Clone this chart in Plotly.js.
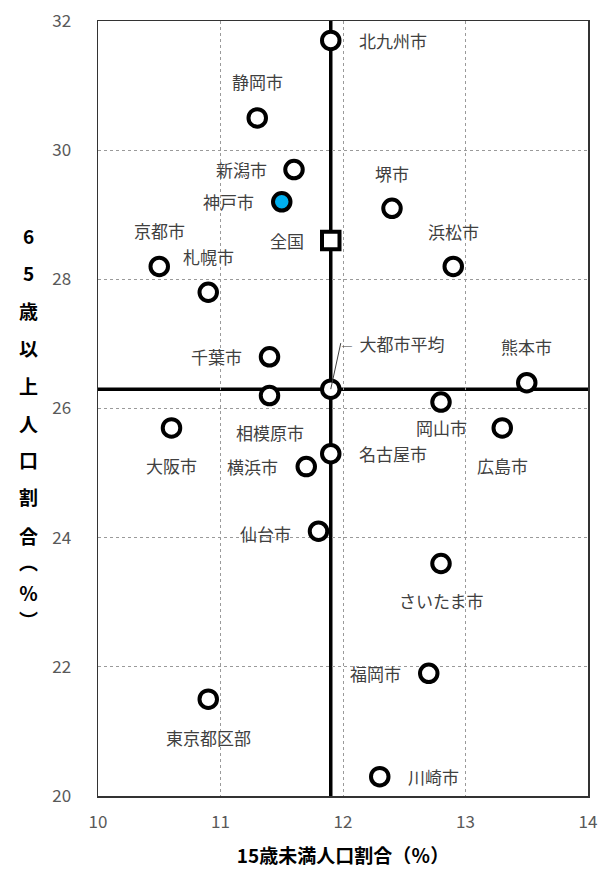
<!DOCTYPE html>
<html>
<head>
<meta charset="utf-8">
<script src="https://cdn.plot.ly/plotly-3.0.1.min.js"></script>
<style>
  html, body { margin: 0; padding: 0; background: #fff; }
  #plot { width: 601px; height: 873px; }
</style>
</head>
<body>
<div id="plot"></div>
<script>
// 各都市のデータ（15歳未満人口割合, 65歳以上人口割合）
const cities = ['北九州市', '静岡市', '新潟市', '神戸市', '堺市', '京都市', '札幌市', '浜松市',
  '千葉市', '熊本市', '相模原市', '岡山市', '大阪市', '広島市', '名古屋市', '横浜市',
  '仙台市', 'さいたま市', '福岡市', '東京都区部', '川崎市'];
const under15 = [11.9, 11.3, 11.6, 11.5, 12.4, 10.5, 10.9, 12.9,
  11.4, 13.5, 11.4, 12.8, 10.6, 13.3, 11.9, 11.7,
  11.8, 12.8, 12.7, 10.9, 12.3];
const over65 = [31.7, 30.5, 29.7, 29.2, 29.1, 28.2, 27.8, 28.2,
  26.8, 26.4, 26.2, 26.1, 25.7, 25.7, 25.3, 25.1,
  24.1, 23.6, 21.9, 21.5, 20.3];

// 全国と大都市平均
const nationName = '全国';
const nationX = [11.9];
const nationY = [28.6];
const avgName = '大都市平均';
const avgX = [11.9];
const avgY = [26.3];

const xTicks = [10, 11, 12, 13, 14];
const yTicks = [20, 22, 24, 26, 28, 30, 32];

// ラベルの位置（点からのずれ, px）
const labelShift = [[62, 0], [0, 36], [-53, 0], [-53, 0], [0, 35], [0, 36], [0, 36], [0, 35],
  [-53, 0], [0, 36], [0, -37], [0, -25], [0, -38], [0, -38], [62, 0], [-54, 0],
  [-53, -2], [0, -37], [-53, 0], [0, -38], [54, 0]];

const highlight = '神戸市';
const font = '"Noto Sans CJK JP", "Noto Sans", sans-serif';
const labelColor = '#404040';

const traces = [
  {
    type: 'scatter', mode: 'markers',
    x: under15, y: over65, text: cities,
    marker: {
      symbol: 'circle', size: 17.5,
      color: cities.map(c => c === highlight ? '#00b0f0' : '#ffffff'),
      line: { color: '#000', width: 4 }
    },
    hoverinfo: 'text', showlegend: false
  },
  {
    type: 'scatter', mode: 'markers',
    x: nationX, y: nationY,
    marker: { symbol: 'square', size: 17.5, color: '#fff', line: { color: '#000', width: 4 } },
    showlegend: false
  },
  {
    type: 'scatter', mode: 'markers',
    x: avgX, y: avgY,
    marker: { symbol: 'circle', size: 17.5, color: '#fff', line: { color: '#000', width: 4 } },
    showlegend: false
  }
];

const annotations = cities.map((c, i) => ({
  x: under15[i], y: over65[i], text: c, showarrow: false,
  xshift: labelShift[i][0], yshift: labelShift[i][1],
  font: { family: font, size: 17, color: labelColor }
}));
annotations.push({
  x: nationX[0], y: nationY[0], text: nationName, showarrow: false,
  xshift: -44, yshift: 0,
  font: { family: font, size: 17, color: labelColor }
});
// 大都市平均の引き出し線
annotations.push({
  x: avgX[0], y: avgY[0], text: '<span style="font-size:10px">─</span>  ' + avgName,
  showarrow: true, arrowhead: 0, arrowwidth: 1, arrowcolor: '#404040', standoff: 0,
  ax: 10, ay: -46, xanchor: 'left', yanchor: 'middle', borderpad: 0,
  font: { family: font, size: 17, color: labelColor }
});

// 縦書きの軸タイトル
const plotTop = 21, plotH = 775;
const yTitleChars = ['6', '5', '歳', '以', '上', '人', '口', '割', '合', '︵', '％', '︶'];
const yTitlePx = [235, 272, 310, 347, 385, 423, 460, 497, 535, 561, 592, 619];
yTitleChars.forEach((ch, i) => {
  annotations.push({
    xref: 'paper', yref: 'paper', x: -0.142, y: 1 - (yTitlePx[i] - plotTop) / plotH,
    text: ch, showarrow: false, xanchor: 'center', yanchor: 'middle',
    font: { family: font, size: 19, color: '#000', weight: 'bold' }
  });
});

const layout = {
  width: 601, height: 873,
  margin: { l: 98, r: 13, t: plotTop, b: 77 },
  paper_bgcolor: '#fff', plot_bgcolor: '#fff',
  font: { family: font },
  xaxis: {
    range: [10, 14], tickvals: xTicks, ticks: '', ticklabelstandoff: 10,
    showgrid: true, gridcolor: '#9a9a9a', griddash: 'dot', gridwidth: 1,
    zeroline: false, showline: true, mirror: true, linecolor: '#333', linewidth: 1.5,
    tickfont: { family: font, size: 17, color: '#595959' },
    title: { text: '15歳未満人口割合（％）', standoff: 18,
      font: { family: font, size: 19, color: '#000', weight: 'bold' } }
  },
  yaxis: {
    range: [20, 32], tickvals: yTicks, ticks: '', ticklabelstandoff: 22,
    showgrid: true, gridcolor: '#9a9a9a', griddash: 'dot', gridwidth: 1,
    zeroline: false, showline: true, mirror: true, linecolor: '#333', linewidth: 1.5,
    tickfont: { family: font, size: 17, color: '#595959' }
  },
  shapes: [
    { type: 'line', xref: 'x', yref: 'paper', x0: avgX[0], x1: avgX[0], y0: 0, y1: 1,
      line: { color: '#000', width: 3.5 }, layer: 'below' },
    { type: 'line', xref: 'paper', yref: 'y', x0: 0, x1: 1, y0: avgY[0], y1: avgY[0],
      line: { color: '#000', width: 3.5 }, layer: 'below' }
  ],
  annotations: annotations
};

Plotly.newPlot('plot', traces, layout, { displayModeBar: false, staticPlot: true });
</script>
</body>
</html>
